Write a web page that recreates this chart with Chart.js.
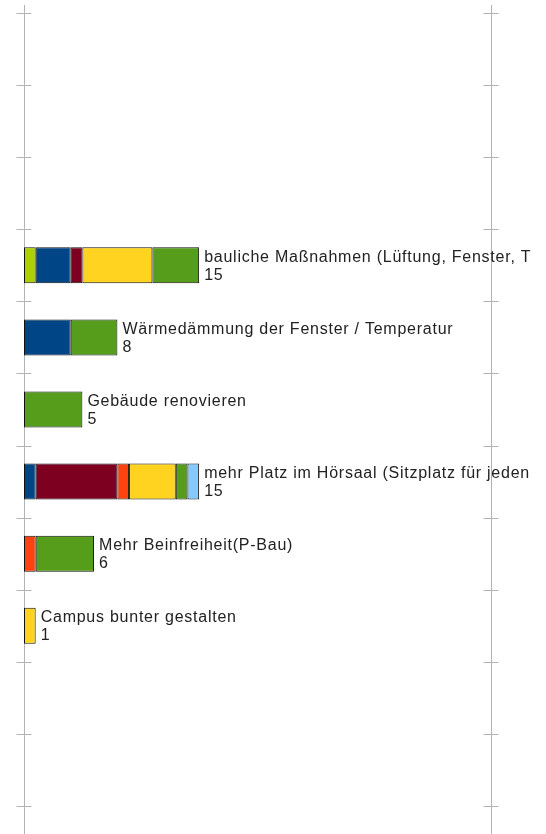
<!DOCTYPE html>
<html>
<head>
<meta charset="utf-8">
<script src="https://cdn.jsdelivr.net/npm/chart.js@4/dist/chart.umd.min.js"></script>
<style>
  html, body { margin: 0; padding: 0; background: #fff; }
  #wrap { width: 546px; height: 834px; }
</style>
</head>
<body>
<div id="wrap"><canvas id="chart"></canvas></div>
<script>
// Kategorien (leere Zeilen oben/unten wie im Original)
const categories = [
  "", "", "",
  "bauliche Maßnahmen (Lüftung, Fenster, T",
  "Wärmedämmung der Fenster / Temperatur",
  "Gebäude renovieren",
  "mehr Platz im Hörsaal (Sitzplatz für jeden",
  "Mehr Beinfreiheit(P-Bau)",
  "Campus bunter gestalten",
  "", ""
];

// Serien in Stapelreihenfolge (links -> rechts)
const seriesA = [0, 0, 0, 1, 0, 0, 0, 0, 0, 0, 0]; // gelbgrün
const seriesB = [0, 0, 0, 3, 4, 0, 1, 0, 0, 0, 0]; // blau
const seriesC = [0, 0, 0, 1, 0, 0, 7, 0, 0, 0, 0]; // dunkelrot
const seriesD = [0, 0, 0, 0, 0, 0, 1, 1, 0, 0, 0]; // orange
const seriesE = [0, 0, 0, 6, 0, 0, 4, 0, 1, 0, 0]; // gelb
const seriesF = [0, 0, 0, 4, 4, 5, 1, 5, 0, 0, 0]; // grün
const seriesG = [0, 0, 0, 0, 0, 0, 1, 0, 0, 0, 0]; // hellblau

const xMax = 40;

const allSeries = [seriesA, seriesB, seriesC, seriesD, seriesE, seriesF, seriesG];
const colors = ["#aecf00", "#004586", "#7e0021", "#ff420e", "#ffd320", "#579d1c", "#83caff"];

const datasets = allSeries.map((s, i) => ({
  label: "S" + (i + 1),
  data: s,
  backgroundColor: colors[i],
  borderColor: "#111",
  borderWidth: 1,
  borderSkipped: false,
  barPercentage: 0.5,
  categoryPercentage: 1.0,
}));

// Achsenlinien + Teilstriche (wie LibreOffice)
const frame = {
  id: "frame",
  beforeDatasetsDraw(chart) {
    const { ctx, chartArea } = chart;
    const n = categories.length;
    const step = (chartArea.bottom - chartArea.top) / n;
    ctx.save();
    ctx.strokeStyle = "#b3b3b3";
    ctx.lineWidth = 1;
    [chartArea.left, chartArea.right].forEach((x) => {
      const px = Math.round(x) + 0.5;
      ctx.beginPath();
      ctx.moveTo(px, 5);
      ctx.lineTo(px, chart.height);
      ctx.stroke();
      for (let i = 0; i <= n; i++) {
        const y = Math.round(chartArea.top + i * step) + 0.5;
        ctx.beginPath();
        ctx.moveTo(px - 8, y);
        ctx.lineTo(px + 7, y);
        ctx.stroke();
      }
    });
    ctx.restore();
  },
  afterDatasetsDraw(chart) {
    const { ctx } = chart;
    const xs = chart.scales.x;
    const ys = chart.scales.y;
    ctx.save();
    ctx.font = "16px 'Liberation Sans', Arial, sans-serif";
    ctx.letterSpacing = "0.75px";
    ctx.fillStyle = "#222";
    ctx.textAlign = "left";
    ctx.textBaseline = "alphabetic";
    categories.forEach((cat, i) => {
      const total = allSeries.reduce((a, s) => a + s[i], 0);
      if (!total) return;
      const x = xs.getPixelForValue(total) + 5;
      const y = ys.getPixelForValue(i);
      ctx.fillText(cat, x, y - 3.5);
      ctx.fillText(String(total), x, y + 14.5);
    });
    ctx.restore();
  },
};

new Chart(document.getElementById("chart"), {
  type: "bar",
  data: { labels: categories, datasets },
  options: {
    indexAxis: "y",
    responsive: true,
    maintainAspectRatio: false,
    animation: false,
    layout: { padding: { left: 24, right: 55, top: 13, bottom: 28 } },
    plugins: { legend: { display: false }, tooltip: { enabled: false } },
    scales: {
      x: { display: false, stacked: true, min: 0, max: xMax },
      y: { display: false, stacked: true },
    },
  },
  plugins: [frame],
});
</script>
</body>
</html>
